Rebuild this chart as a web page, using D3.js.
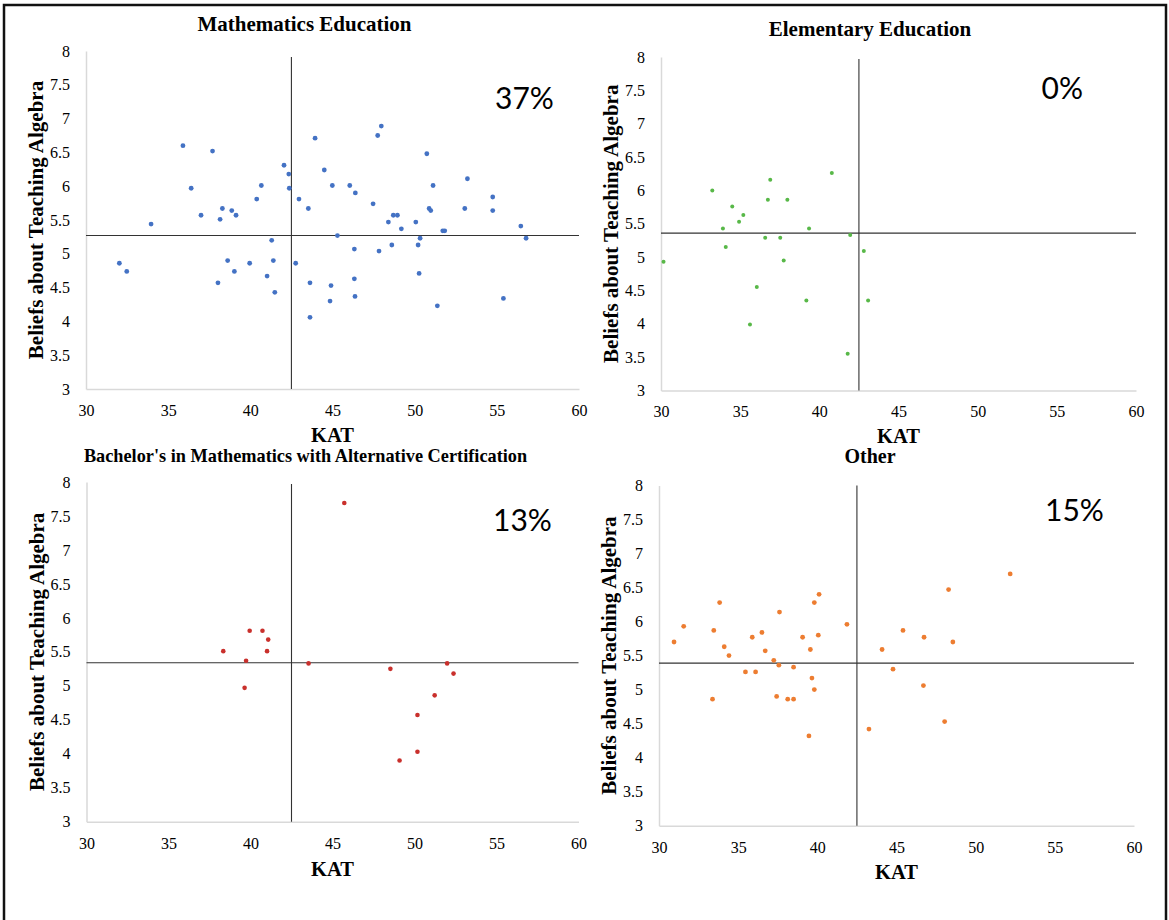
<!DOCTYPE html>
<html><head><meta charset="utf-8">
<script src="https://cdn.jsdelivr.net/npm/d3@7"></script>
<style>body{margin:0;background:#fff}svg{display:block}</style>
</head><body>
<svg id="chart" width="1169" height="920"></svg>
<script>
// ---- data ----
const xTicks = [30, 35, 40, 45, 50, 55, 60];
const yTicks = [3, 3.5, 4, 4.5, 5, 5.5, 6, 6.5, 7, 7.5, 8];
const xTitle = "KAT";
const yTitle = "Beliefs about Teaching Algebra";
const panelTitles = ["Mathematics Education", "Elementary Education",
  "Bachelor's in Mathematics with Alternative Certification", "Other"];
const percentLabels = ["37%", "0%", "13%", "15%"];
const refKAT = [42.5, 42.5, 42.5, 42.5];
const refBeliefs = [5.27, 5.36, 5.34, 5.39];
const refTop = [7.91, 7.97, 7.97, 8];

const mathEducation = [[35.9,6.6],[37.7,6.52],[36.4,5.97],[37.0,5.57],[38.16,5.51],[38.3,5.67],[38.87,5.64],[39.13,5.57],[40.39,5.81],[40.67,6.01],[42.05,6.31],[42.34,6.18],[42.37,5.97],[42.96,5.81],[43.53,5.67],[43.94,6.71],[47.97,6.89],[47.75,6.75],[44.5,6.24],[44.99,6.01],[46.05,6.01],[46.39,5.9],[47.47,5.74],[50.74,6.48],[51.12,6.01],[53.21,6.11],[54.75,5.84],[54.75,5.64],[53.05,5.67],[50.88,5.67],[50.98,5.64],[48.7,5.57],[48.95,5.57],[48.4,5.47],[50.07,5.47],[49.19,5.37],[51.71,5.34],[51.83,5.34],[56.46,5.41],[56.78,5.23],[45.3,5.27],[50.33,5.23],[46.33,5.07],[47.83,5.04],[48.61,5.13],[50.21,5.13],[33.96,5.44],[32.03,4.86],[32.48,4.74],[38.62,4.9],[39.03,4.74],[38.03,4.57],[39.96,4.86],[41.02,4.67],[41.3,5.2],[41.4,4.9],[41.49,4.43],[42.76,4.86],[43.63,4.57],[43.63,4.06],[44.91,4.53],[46.33,4.63],[50.27,4.71],[44.85,4.3],[46.37,4.37],[51.38,4.23],[55.4,4.34]];
const elementaryEducation = [[33.24,6.0],[34.5,5.76],[35.2,5.63],[34.93,5.53],[33.91,5.43],[36.9,6.16],[36.75,5.86],[37.98,5.86],[40.79,6.26],[39.35,5.43],[36.58,5.29],[37.53,5.29],[41.95,5.33],[34.09,5.15],[30.16,4.93],[37.75,4.95],[42.81,5.09],[36.05,4.55],[39.18,4.35],[43.08,4.35],[35.62,3.99],[41.79,3.55]];
const bachelorsAltCert = [[45.72,7.69],[39.95,5.81],[40.73,5.81],[41.08,5.68],[38.34,5.51],[41.01,5.51],[39.73,5.37],[43.54,5.33],[48.53,5.25],[51.99,5.33],[52.38,5.18],[39.64,4.97],[51.23,4.86],[50.18,4.57],[50.18,4.03],[49.09,3.9]];
const otherPrograms = [[52.18,6.7],[48.29,6.47],[40.11,6.4],[39.81,6.28],[33.83,6.28],[37.61,6.14],[41.87,5.96],[31.56,5.93],[33.46,5.87],[36.5,5.84],[45.41,5.87],[35.89,5.77],[39.07,5.77],[40.06,5.8],[46.74,5.77],[30.95,5.7],[48.56,5.7],[34.12,5.63],[39.56,5.59],[44.09,5.59],[36.71,5.57],[34.42,5.5],[37.25,5.43],[37.57,5.36],[38.5,5.33],[44.78,5.3],[35.46,5.26],[36.1,5.26],[39.66,5.17],[46.7,5.06],[39.81,5.0],[33.38,4.86],[37.43,4.9],[38.13,4.86],[38.5,4.86],[48.04,4.53],[43.26,4.42],[39.47,4.32]];
const seriesData = [mathEducation, elementaryEducation, bachelorsAltCert, otherPrograms];

// ---- layout / style ----
const layout = [
  {x0:86,   x1:579,  yb:389,   yt:51,   tX:304.5, tY:30.5, tS:21,   pX:495,    pY:109,   r:2.4, c:"#4472C4", kY:52.5},
  {x0:661,  x1:1136, yb:390.5, yt:57,   tX:870,   tY:36,   tS:21,   pX:1041.5, pY:98.5,  r:2.0, c:"#58B848", kY:52.5},
  {x0:86.5, x1:578.5,yb:821.7, yt:482,  tX:305.5, tY:462,  tS:18.3, pX:493,    pY:530.5, r:2.3, c:"#C9302C", kY:54},
  {x0:659,  x1:1134, yb:825.7, yt:485.5,tX:870,   tY:462.5,tS:20,   pX:1045,   pY:521,   r:2.4, c:"#ED7D31", kY:53.5}
];
const serif = "'Liberation Serif','Times New Roman',serif";

const svg = d3.select("#chart");
svg.append("path").attr("d","M4,930V5H1166V930").attr("fill","none")
   .attr("stroke","#111").attr("stroke-width",2.5);

layout.forEach((L, i) => {
  const x = d3.scaleLinear().domain([xTicks[0], xTicks[xTicks.length-1]]).range([L.x0, L.x1]);
  const y = d3.scaleLinear().domain([yTicks[0], yTicks[yTicks.length-1]]).range([L.yb, L.yt]);
  const g = svg.append("g");

  const ya = g.append("g").attr("transform",`translate(${L.x0},0)`)
    .call(d3.axisLeft(y).tickValues(yTicks).tickSize(0).tickPadding(16).tickFormat(d=>String(d)));
  const xa = g.append("g").attr("transform",`translate(0,${L.yb})`)
    .call(d3.axisBottom(x).tickValues(xTicks).tickSize(0).tickPadding(15.5).tickFormat(d=>String(d)));
  [ya, xa].forEach(a => {
    a.select(".domain").attr("stroke","#d9d9d9").attr("stroke-width",1.5);
    a.selectAll("text").attr("font-family",serif).attr("font-size",16).attr("fill","#000");
  });

  // reference lines
  g.append("line").attr("x1",x(xTicks[0])).attr("x2",x(xTicks[xTicks.length-1]))
    .attr("y1",y(refBeliefs[i])).attr("y2",y(refBeliefs[i]))
    .attr("stroke","#333").attr("stroke-width",1.1);
  g.append("line").attr("x1",x(refKAT[i])).attr("x2",x(refKAT[i]))
    .attr("y1",y(yTicks[0])).attr("y2",y(refTop[i]))
    .attr("stroke","#333").attr("stroke-width",1.1);

  // points
  g.selectAll("circle.pt").data(seriesData[i]).join("circle").attr("class","pt")
    .attr("cx",d=>x(d[0])).attr("cy",d=>y(d[1])).attr("r",L.r).attr("fill",L.c);

  // titles
  g.append("text").attr("x",L.tX).attr("y",L.tY).attr("text-anchor","middle")
    .attr("font-family",serif).attr("font-weight","bold").attr("font-size",L.tS)
    .text(panelTitles[i]);
  g.append("text").attr("x",x(45)).attr("y",L.yb+L.kY).attr("text-anchor","middle")
    .attr("font-family",serif).attr("font-weight","bold").attr("font-size",20.5)
    .text(xTitle);
  const cy = (L.yb+L.yt)/2;
  g.append("text").attr("transform",`translate(${L.x0-43},${cy}) rotate(-90)`)
    .attr("text-anchor","middle").attr("font-family",serif).attr("font-weight","bold")
    .attr("font-size",21).text(yTitle);
  g.append("text").attr("x",L.pX).attr("y",L.pY).attr("font-family","Lato, 'Open Sans', sans-serif")
    .attr("font-size",30).attr("fill","#000").text(percentLabels[i]);
});
</script>
</body></html>
